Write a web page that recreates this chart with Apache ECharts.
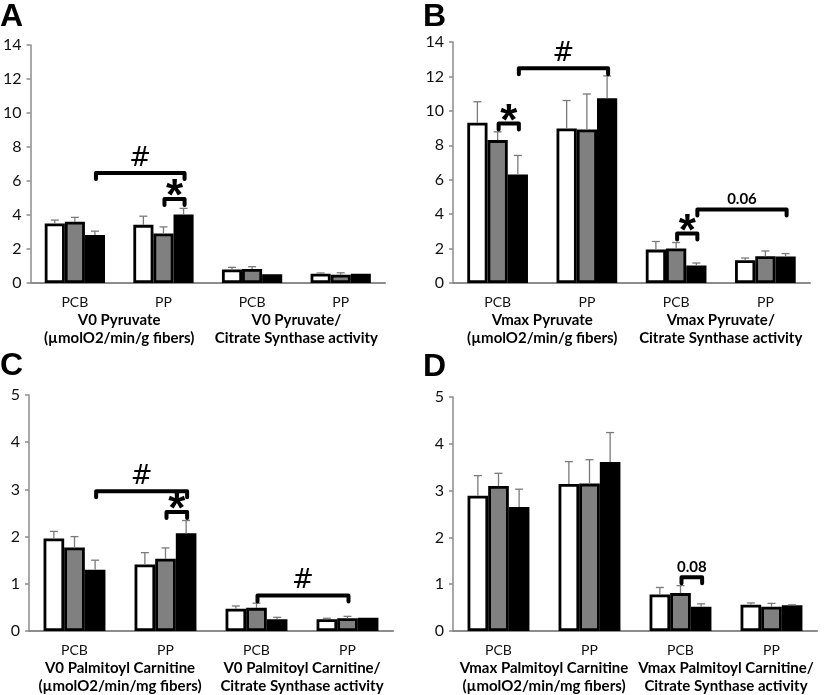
<!DOCTYPE html>
<html>
<head>
<meta charset="utf-8">
<script src="https://cdn.jsdelivr.net/npm/echarts@6/dist/echarts.min.js"></script>
<style>
html,body{margin:0;padding:0;background:#fff;}
#chart{width:825px;height:695px;}
</style>
</head>
<body>
<div id="chart"></div>
<script>
// ---------- DATA ----------
const categories = ['PCB', 'PP', 'PCB', 'PP'];

const groupLabelsA = ['V0 Pyruvate\n(µmolO2/min/g fibers)', 'V0 Pyruvate/\nCitrate Synthase activity'];
const groupLabelsB = ['Vmax Pyruvate\n(µmolO2/min/g fibers)', 'Vmax Pyruvate/\nCitrate Synthase activity'];
const groupLabelsC = ['V0 Palmitoyl Carnitine\n(µmolO2/min/mg fibers)', 'V0 Palmitoyl Carnitine/\nCitrate Synthase activity'];
const groupLabelsD = ['Vmax Palmitoyl Carnitine\n(µmolO2/min/mg fibers)', 'Vmax Palmitoyl Carnitine/\nCitrate Synthase activity'];

const yTicksAB = { min: 0, max: 14, interval: 2 };
const yTicksCD = { min: 0, max: 5, interval: 1 };

// Panel A : V0 pyruvate
const A_white = [3.50, 3.42, 0.79, 0.55];
const A_whiteErr = [3.70, 3.93, 0.92, 0.59];
const A_gray = [3.60, 2.91, 0.82, 0.49];
const A_grayErr = [3.86, 3.30, 0.96, 0.60];
const A_black = [2.83, 4.03, 0.51, 0.55];
const A_blackErr = [3.05, 4.39, 0.51, 0.55];

// Panel B : Vmax pyruvate
const B_white = [9.31, 8.98, 1.94, 1.32];
const B_whiteErr = [10.53, 10.60, 2.41, 1.45];
const B_gray = [8.30, 8.92, 2.00, 1.55];
const B_grayErr = [8.78, 10.98, 2.35, 1.86];
const B_black = [6.30, 10.73, 1.01, 1.54];
const B_blackErr = [7.41, 12.03, 1.16, 1.71];

// Panel C : V0 palmitoyl carnitine
const C_white = [1.96, 1.41, 0.47, 0.25];
const C_whiteErr = [2.11, 1.66, 0.53, 0.27];
const C_gray = [1.77, 1.53, 0.49, 0.27];
const C_grayErr = [2.00, 1.76, 0.59, 0.31];
const C_black = [1.30, 2.07, 0.25, 0.28];
const C_blackErr = [1.50, 2.34, 0.29, 0.28];

// Panel D : Vmax palmitoyl carnitine
const D_white = [2.89, 3.14, 0.78, 0.56];
const D_whiteErr = [3.32, 3.62, 0.93, 0.60];
const D_gray = [3.10, 3.15, 0.81, 0.52];
const D_grayErr = [3.37, 3.66, 0.97, 0.59];
const D_black = [2.65, 3.61, 0.52, 0.55];
const D_blackErr = [3.03, 4.24, 0.58, 0.56];

// Significance brackets: [category1, bar1, category2, bar2, y]
const A_brackets = [[0, 2, 1, 2, 6.47], [1, 1, 1, 2, 4.94]];
const A_bracketLabels = ['#', '*'];
const B_brackets = [[0, 2, 1, 2, 12.47], [0, 1, 0, 2, 9.27], [2, 1, 2, 2, 2.87], [2, 2, 3, 2, 4.27]];
const B_bracketLabels = ['#', '*', '*', '0.06'];
const C_brackets = [[0, 2, 1, 2, 2.96], [1, 1, 1, 2, 2.52], [2, 1, 3, 1, 0.75]];
const C_bracketLabels = ['#', '*', '#'];
const D_brackets = [[2, 1, 2, 2, 1.15]];
const D_bracketLabels = ['0.08'];

const panelLetters = ['A', 'B', 'C', 'D'];

// ---------- STYLE / LAYOUT ----------
const FONT = 'Lato';
const GAP = 0.32;
const grids = [
  { left: 26, top: 45, width: 359, height: 238 },
  { left: 453, top: 42, width: 357, height: 241 },
  { left: 29, top: 395, width: 364, height: 237 },
  { left: 453, top: 397, width: 364, height: 235 }
];
const letterPos = [[0, 1], [423, 1], [0, 350], [423, 351]];
const barColors = ['#ffffff', '#808080', '#000000'];

const panels = [
  { values: [A_white, A_gray, A_black], errs: [A_whiteErr, A_grayErr, A_blackErr], groups: groupLabelsA, y: yTicksAB, br: A_brackets, brl: A_bracketLabels },
  { values: [B_white, B_gray, B_black], errs: [B_whiteErr, B_grayErr, B_blackErr], groups: groupLabelsB, y: yTicksAB, br: B_brackets, brl: B_bracketLabels },
  { values: [C_white, C_gray, C_black], errs: [C_whiteErr, C_grayErr, C_blackErr], groups: groupLabelsC, y: yTicksCD, br: C_brackets, brl: C_bracketLabels },
  { values: [D_white, D_gray, D_black], errs: [D_whiteErr, D_grayErr, D_blackErr], groups: groupLabelsD, y: yTicksCD, br: D_brackets, brl: D_bracketLabels }
];

const xAxes = [], yAxes = [], series = [];

panels.forEach((p, gi) => {
  const xMain = xAxes.length;
  xAxes.push({
    type: 'category', gridIndex: gi, data: categories,
    axisLine: { lineStyle: { color: '#8c8c8c', width: 2 } },
    axisTick: { show: false },
    axisLabel: { margin: 12, color: '#111', fontFamily: FONT, fontSize: 14, lineHeight: 14 }
  });
  xAxes.push({
    type: 'category', gridIndex: gi, data: p.groups, position: 'bottom',
    axisLine: { show: false }, axisTick: { show: false },
    axisLabel: { margin: 28, color: '#000', fontFamily: FONT, fontSize: 15, fontWeight: 'bold', lineHeight: 18, interval: 0 }
  });
  yAxes.push({
    type: 'value', gridIndex: gi, min: p.y.min, max: p.y.max, interval: p.y.interval,
    splitLine: { show: false },
    axisLine: { show: true, lineStyle: { color: '#8c8c8c', width: 1.5 } },
    axisTick: { show: true, length: 4, lineStyle: { color: '#8c8c8c', width: 1.5 } },
    axisLabel: { margin: 9, color: '#111', fontFamily: FONT, fontSize: 16 }
  });

  p.values.forEach((vals, si) => {
    series.push({
      type: 'bar', xAxisIndex: xMain, yAxisIndex: gi, data: vals,
      barGap: '0%', barCategoryGap: (GAP * 100) + '%',
      itemStyle: { color: barColors[si], borderColor: '#000', borderWidth: 2.8 },
      silent: true, animation: false, z: 2
    });
  });

  const errData = [];
  p.errs.forEach((errs, si) => {
    errs.forEach((e, ci) => errData.push([ci, si, p.values[si][ci], e]));
  });
  series.push({
    type: 'custom', xAxisIndex: xMain, yAxisIndex: gi, data: errData,
    encode: { x: 0, y: 3 }, animation: false, silent: true, z: 3,
    renderItem: function (params, api) {
      const v = api.value(2), e = api.value(3);
      if (!(e > v)) return null;
      const band = api.size([1, 0])[0];
      const bw = band * (1 - GAP) / 3;
      const p0 = api.coord([api.value(0), v]);
      const p1 = api.coord([api.value(0), e]);
      const x = p0[0] + (api.value(1) - 1) * bw;
      const st = { stroke: '#7a7a7a', lineWidth: 1.3 };
      return {
        type: 'group', children: [
          { type: 'line', shape: { x1: x, y1: p0[1], x2: x, y2: p1[1] }, style: st },
          { type: 'line', shape: { x1: x - 4, y1: p1[1], x2: x + 4, y2: p1[1] }, style: st }
        ]
      };
    }
  });

  const labels = p.brl;
  series.push({
    type: 'custom', xAxisIndex: xMain, yAxisIndex: gi, data: p.br,
    encode: { x: 0, y: 4 }, animation: false, silent: true, z: 4, clip: false,
    renderItem: function (params, api) {
      const band = api.size([1, 0])[0];
      const bw = band * (1 - GAP) / 3;
      const a = api.coord([api.value(0), api.value(4)]);
      const b = api.coord([api.value(2), api.value(4)]);
      const x1 = a[0] + (api.value(1) - 1) * bw + 1;
      const x2 = b[0] + (api.value(3) - 1) * bw + 1;
      const y = a[1];
      const lab = labels[params.dataIndex];
      const numeric = /\d/.test(lab);
      const star = lab === '*';
      return {
        type: 'group', children: [
          { type: 'polyline', shape: { points: [[x1, y + 6], [x1, y], [x2, y], [x2, y + 6]] },
            style: { stroke: '#000', lineWidth: 4, fill: null, lineJoin: 'round', lineCap: 'round' } },
          { type: 'text', style: {
              text: lab, x: (x1 + x2) / 2, y: numeric ? y - 3 : (star ? y - 1 : y - 1),
              align: 'center', verticalAlign: star ? 'middle' : 'bottom',
              font: numeric ? 'bold 15px ' + FONT : (star ? 'bold 44px "Liberation Sans"' : '26px "DejaVu Sans"'),
              fill: '#000' } }
        ]
      };
    }
  });
});

const graphics = panelLetters.map((L, i) => ({
  type: 'text', left: letterPos[i][0], top: letterPos[i][1],
  style: { text: L, font: 'bold 32px "Liberation Sans"', fill: '#000' }
}));

const chart = echarts.init(document.getElementById('chart'), null, { renderer: 'canvas' });
chart.setOption({
  animation: false,
  backgroundColor: '#fff',
  grid: grids,
  xAxis: xAxes,
  yAxis: yAxes,
  series: series,
  graphic: graphics
});
</script>
</body>
</html>
